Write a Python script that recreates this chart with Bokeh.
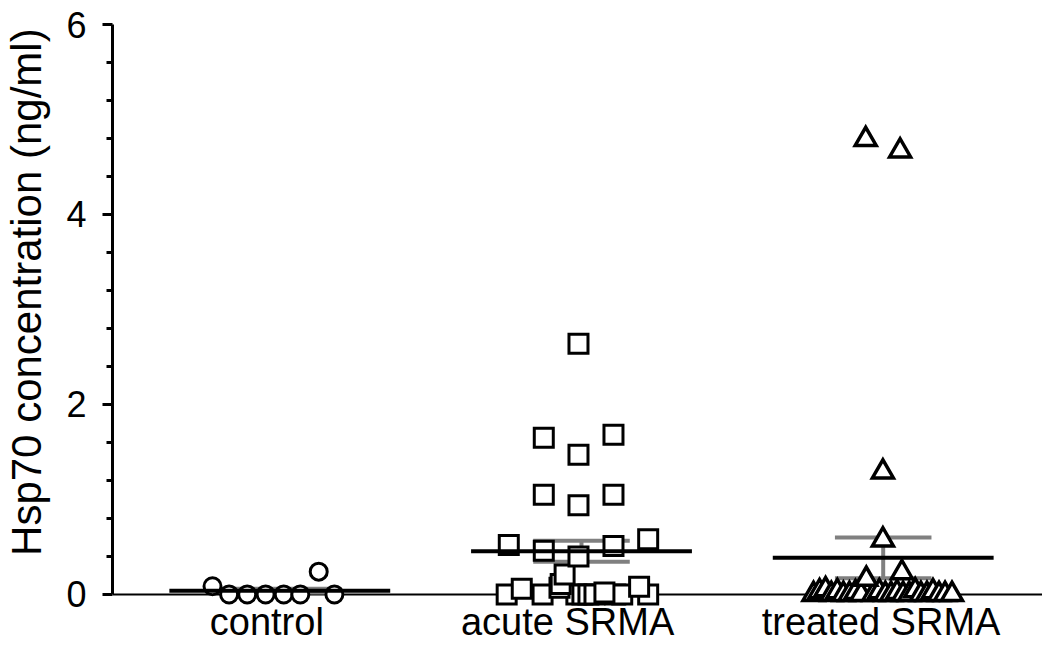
from bokeh.plotting import figure
from bokeh.models import FixedTicker, Span, Range1d
from bokeh.embed import file_html
from bokeh.resources import INLINE

# ---- data ----
categories = ["control", "acute SRMA", "treated SRMA"]
group_pos = [1, 2, 3]
label_pos = [0.957, 1.954, 2.993]

control_x = [0.777, 0.832, 0.892, 0.953, 1.013, 1.068, 1.129, 1.181]
control_y = [0.086, 0.0, 0.0, 0.0, 0.0, 0.0, 0.24, 0.0]

acute_x = [1.752, 1.871, 1.983, 2.003, 2.023, 2.043, 2.112, 2.135, 2.221,
           1.802, 1.927, 2.076, 2.191, 1.931, 1.944,
           1.990, 1.759, 1.875, 2.106, 2.221, 1.990,
           1.875, 2.106, 1.990, 1.875, 2.106, 1.990]
acute_y = [0.0, 0.0, 0.0, 0.0, 0.0, 0.0, 0.0, 0.0, 0.0,
           0.06, 0.07, 0.02, 0.08, 0.11, 0.21,
           0.40, 0.52, 0.46, 0.51, 0.58, 0.94,
           1.05, 1.05, 1.47, 1.65, 1.68, 2.64]

treated_x = [2.769, 2.789, 2.809, 2.828, 2.848, 2.868, 2.888, 2.908, 2.927,
             2.967, 2.987, 3.007, 3.026, 3.046, 3.066, 3.086, 3.106, 3.125,
             3.145, 3.165, 3.185, 3.205, 3.228,
             2.944, 3.062, 2.999, 2.999, 2.942, 3.056]
treated_y = [0.0, 0.03, 0.05, 0.0, 0.03, 0.0, 0.0, 0.02, 0.0,
             0.0, 0.03, 0.0, 0.0, 0.02, 0.0, 0.0, 0.04, 0.0,
             0.0, 0.03, 0.0, 0.0, 0.0,
             0.16, 0.23, 0.575, 1.29, 4.79, 4.67]

means = [0.04, 0.455, 0.385]
sems = [0.02, 0.11, 0.215]

y_ticks = [0, 2, 4, 6]
y_minor = [0.4, 0.8, 1.2, 1.6, 2.4, 2.8, 3.2, 3.6, 4.4, 4.8, 5.2, 5.6]

# ---- figure ----
W, H = 1042, 656
p = figure(width=W, height=H, output_backend="svg", toolbar_location=None,
           x_range=Range1d(0.4455, 3.528), y_range=Range1d(-0.127, 6.0),
           min_border_left=108, min_border_right=0, min_border_top=24,
           min_border_bottom=50)
p.outline_line_color = None
p.grid.visible = False
p.background_fill_color = "white"
p.border_fill_color = "white"

FONT = "Liberation Sans"

# y axis
p.yaxis.ticker = FixedTicker(ticks=y_ticks, minor_ticks=y_minor)
p.yaxis.bounds = (0, 6)
p.yaxis.axis_line_width = 3
p.yaxis.axis_line_color = "black"
p.yaxis.major_tick_line_width = 3
p.yaxis.minor_tick_line_width = 3
p.yaxis.major_tick_in = 0
p.yaxis.major_tick_out = 10
p.yaxis.minor_tick_in = 0
p.yaxis.minor_tick_out = 6
p.yaxis.major_label_text_font = FONT
p.yaxis.major_label_text_font_size = "36px"
p.yaxis.major_label_text_color = "black"
p.yaxis.major_label_standoff = 16
p.yaxis.axis_label = "\u00a0\u00a0\u00a0\u00a0Hsp70 concentration (ng/ml)"
p.yaxis.axis_label_text_font = FONT
p.yaxis.axis_label_text_font_size = "42px"
p.yaxis.axis_label_text_font_style = "normal"
p.yaxis.axis_label_text_color = "black"
p.yaxis.axis_label_standoff = 13

# x axis (category labels only)
p.xaxis.ticker = FixedTicker(ticks=label_pos)
p.xaxis.major_label_overrides = {g: c for g, c in zip(label_pos, categories)}
p.xaxis.axis_line_color = None
p.xaxis.major_tick_line_color = None
p.xaxis.minor_tick_line_color = None
p.xaxis.major_label_text_font = FONT
p.xaxis.major_label_text_font_size = "38px"
p.xaxis.major_label_text_color = "black"
p.xaxis.major_label_standoff = -12

# x axis line at 0
p.add_layout(Span(location=0, dimension="width", line_color="black",
                  line_width=2, level="underlay"))

# SEM bars (grey)
half_cap = 0.16
upper = [m + s for m, s in zip(means, sems)]
lower = [m - s for m, s in zip(means, sems)]
p.segment(x0=[g - half_cap for g in group_pos], x1=[g + half_cap for g in group_pos],
          y0=upper, y1=upper, line_color="#808080", line_width=4)
p.segment(x0=[g - half_cap for g in group_pos], x1=[g + half_cap for g in group_pos],
          y0=lower, y1=lower, line_color="#808080", line_width=4)
p.segment(x0=group_pos, x1=group_pos, y0=lower, y1=upper,
          line_color="#808080", line_width=4)

# points
p.scatter(control_x, control_y, marker="circle", size=17, line_width=3,
          line_color="black", fill_color="white")
p.scatter(acute_x, acute_y, marker="square", size=19, line_width=3,
          line_color="black", fill_color="white", line_join="miter")
p.scatter(treated_x, treated_y, marker="triangle", size=21, line_width=3.5,
          line_color="black", fill_color="white", line_join="miter")

# mean lines
half_mean = 0.366
p.segment(x0=[g - half_mean for g in group_pos], x1=[g + half_mean for g in group_pos],
          y0=means, y1=means, line_color="black", line_width=4)

open("out.html", "w").write(file_html(p, INLINE))
